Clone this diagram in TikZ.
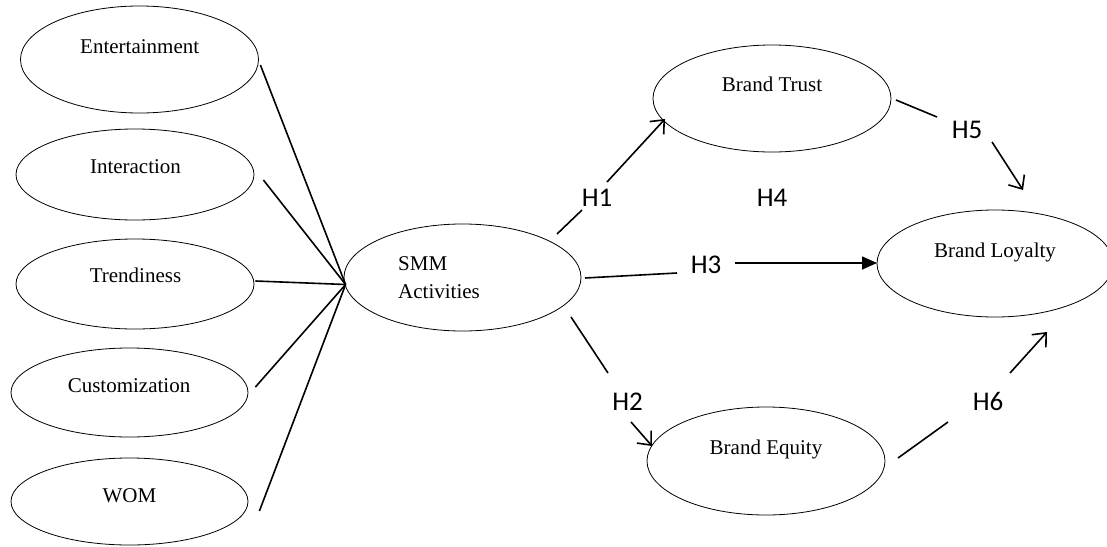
\documentclass[tikz,border=0pt]{standalone}
\usepackage{fontspec}
\setmainfont{Liberation Serif}
\newfontfamily\hfont{Carlito}
\usetikzlibrary{shapes.geometric,arrows.meta}
\begin{document}
\begin{tikzpicture}[x=1pt,y=-1pt,
  ell/.style={draw, ellipse, line width=0.8pt, inner sep=0pt},
  etxt/.style={font=\fontsize{21}{25}\selectfont, anchor=base, inner sep=0pt},
  hl/.style={font=\hfont\fontsize{27}{30}\selectfont, anchor=base, inner sep=0pt},
  conn/.style={line width=1.6pt},
  barb/.style={conn, -{Straight Barb[length=11pt,width=19pt]}},
  tri/.style={conn, -{Triangle[length=15pt,width=13pt]}}]
\useasboundingbox (0,0) rectangle (1107,546);
\fill[white] (0,0) rectangle (1107,546);

% ellipses
\node[ell, minimum width=238pt, minimum height=107pt] (ent) at (139.5,59.5) {};
\node[ell, minimum width=238pt, minimum height=91pt] (int) at (135,174.5) {};
\node[ell, minimum width=238pt, minimum height=90pt] (tre) at (135,284) {};
\node[ell, minimum width=237pt, minimum height=89pt] (cus) at (129.5,392.5) {};
\node[ell, minimum width=237pt, minimum height=87pt] (wom) at (129.5,501.5) {};
\node[ell, minimum width=237pt, minimum height=107pt] (smm) at (462.5,277.5) {};
\node[ell, minimum width=238pt, minimum height=107pt] (trust) at (772,98.5) {};
\node[ell, minimum width=236pt, minimum height=107pt] (loyal) at (995,263.5) {};
\node[ell, minimum width=238pt, minimum height=108pt] (equity) at (766,461) {};

% texts
\node[etxt] (tent) at (139.7,53) {Entertainment};
\node[etxt] (tint) at (135.5,173) {Interaction};
\node[etxt] (ttre) at (135.5,282) {Trendiness};
\node[etxt] (tcus) at (129,392) {Customization};
\node[etxt] (twom) at (129.5,502) {WOM};
\node[etxt, anchor=base west] (tsmm1) at (398,270) {SMM};
\node[etxt, anchor=base west] (tsmm2) at (398,298) {Activities};
\node[etxt] (ttrust) at (772,91) {Brand Trust};
\node[etxt] (tloyal) at (995,257) {Brand Loyalty};
\node[etxt] (tequity) at (766,454) {Brand Equity};

% hypothesis labels
\node[hl] (H1) at (597,206) {H1};
\node[hl] (H2) at (627.5,410) {H2};
\node[hl] (H3) at (706,273) {H3};
\node[hl] (H4) at (772,206) {H4};
\node[hl] (H5) at (967,138) {H5};
\node[hl] (H6) at (988,410) {H6};

% hub
\coordinate (hub) at ([shift={(2,7)}]smm.west);
\draw[conn] ([shift={(1.5,5.5)}]ent.east) -- (hub);
\draw[conn] ([shift={(9,5.5)}]int.east) -- (hub);
\draw[conn] ([shift={(1,-3)}]tre.east) -- (hub);
\draw[conn] ([shift={(7,-5.5)}]cus.east) -- (hub);
\draw[conn] ([shift={(11,9.5)}]wom.east) -- (hub);

% segment ends
\coordinate (h1a) at (557,234); \coordinate (h1b) at (582,210);
\coordinate (h1c) at (607,182); \coordinate (h1d) at (665,119);
\coordinate (h2a) at (571,317); \coordinate (h2b) at (608,373);
\coordinate (h2c) at (631,422); \coordinate (h2d) at (652,446);
\coordinate (h3a) at (585,278); \coordinate (h3b) at (677,273);
\coordinate (h3c) at (735,263); \coordinate (h3d) at (877,263);
\coordinate (h5a) at (896,100); \coordinate (h5b) at (937,117);
\coordinate (h5c) at (992,142); \coordinate (h5d) at (1023,190);
\coordinate (h6a) at (898,458); \coordinate (h6b) at (948,422);
\coordinate (h6c) at (1010,373); \coordinate (h6d) at (1047,332);

\draw[conn] (h1a) -- (h1b);
\draw[barb] (h1c) -- (h1d);
\draw[conn] (h2a) -- (h2b);
\draw[barb] (h2c) -- (h2d);
\draw[conn] (h3a) -- (h3b);
\draw[tri] (h3c) -- (h3d);
\draw[conn] (h5a) -- (h5b);
\draw[barb] (h5c) -- (h5d);
\draw[conn] (h6a) -- (h6b);
\draw[barb] (h6c) -- (h6d);
\end{tikzpicture}
\end{document}
